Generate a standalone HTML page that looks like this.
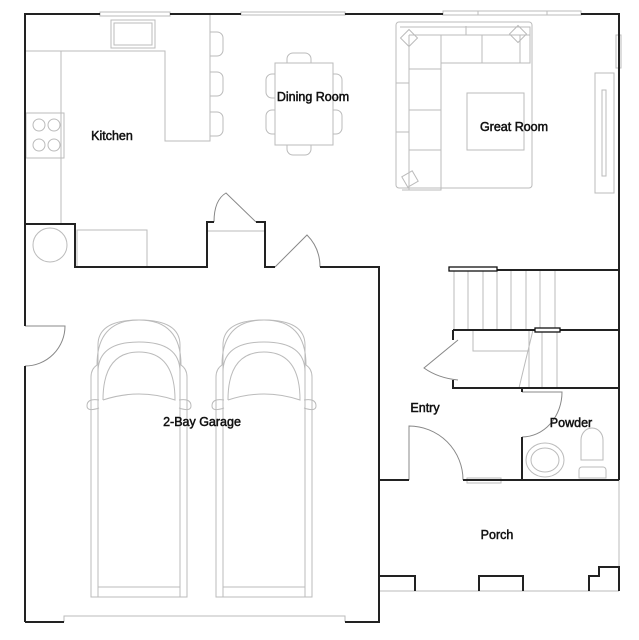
<!DOCTYPE html>
<html><head><style>
html,body{margin:0;padding:0;background:#fff;}
svg{display:block;}
text{font-family:"Liberation Sans",sans-serif;font-size:12.5px;fill:#111;text-anchor:middle;stroke:#111;stroke-width:0.5;}
</style></head><body>
<svg width="639" height="640" viewBox="0 0 639 640" xmlns="http://www.w3.org/2000/svg">
<g fill="none" stroke="#bbb" stroke-width="1">
 <rect x="100" y="12" width="70" height="4" fill="#fff"/>
 <rect x="111" y="20" width="44" height="28"/><rect x="114" y="23" width="38" height="22"/>
 <path d="M25 224 V51 H61 M61 224 V51 H165 V141 H210 V14"/>
 <rect x="26" y="113" width="38" height="45"/>
 <circle cx="39" cy="125" r="6"/><circle cx="54" cy="125" r="6"/><circle cx="39" cy="145" r="6"/><circle cx="54" cy="145" r="6"/>
 <path d="M210 32 h7 a6 6 0 0 1 6 6 v12 a6 6 0 0 1 -6 6 h-7"/>
 <path d="M210 72 h7 a6 6 0 0 1 6 6 v12 a6 6 0 0 1 -6 6 h-7"/>
 <path d="M210 112 h7 a6 6 0 0 1 6 6 v12 a6 6 0 0 1 -6 6 h-7"/>
 <circle cx="50" cy="245" r="17"/>
 <rect x="77" y="230" width="70" height="37"/>
 <line x1="207" y1="231" x2="265" y2="231"/>
 <rect x="275" y="63" width="58" height="82"/>
 <path d="M287 63 v-4 a6 6 0 0 1 6 -6 h12 a6 6 0 0 1 6 6 v4"/>
 <path d="M287 145 v4 a6 6 0 0 0 6 6 h12 a6 6 0 0 0 6 -6 v-4"/>
 <path d="M275 74 h-3 a6 6 0 0 0 -6 6 v12 a6 6 0 0 0 6 6 h3"/>
 <path d="M275 110 h-3 a6 6 0 0 0 -6 6 v12 a6 6 0 0 0 6 6 h3"/>
 <path d="M333 74 h3 a6 6 0 0 1 6 6 v12 a6 6 0 0 1 -6 6 h-3"/>
 <path d="M333 110 h3 a6 6 0 0 1 6 6 v12 a6 6 0 0 1 -6 6 h-3"/>
 <rect x="241" y="12" width="104" height="3"/>
 <rect x="396" y="22" width="136" height="166" rx="3"/>
 <path d="M400 27 H530 V63 H441 V190 H402"/>
 <path d="M409 35 H530 M441 63 V35 M466 26 V35 M482 35 V63 M520 35 V63 M409 35 V190 M409 69 H441 M409 110 H441 M409 150 H441 M396 83 H409 M396 132 H409"/>
 <rect x="403" y="32" width="12" height="12" transform="rotate(45 409 38)"/>
 <rect x="512" y="28" width="12" height="12" transform="rotate(45 518 34)"/>
 <rect x="404" y="173" width="12" height="12" transform="rotate(-30 410 179)"/>
 <rect x="467" y="93" width="57" height="57"/>
 <rect x="595" y="73" width="19" height="120"/><rect x="602" y="90" width="4" height="86"/>
 <rect x="443" y="11" width="138" height="4" fill="#fff"/><line x1="478" y1="11" x2="478" y2="15"/><line x1="547" y1="11" x2="547" y2="15"/>
 <rect x="616" y="35" width="5" height="33" fill="#fff"/>
 <path d="M454 270 V330 M468 270 V330 M483 270 V330 M497 270 V330 M511 270 V330 M526 270 V330 M540 270 V330 M555 270 V330"/>
 <path d="M473 330 V351 H529 M560 330 H619 M529 330 V388 M542 330 V388 M557 330 V388 M533 330 L519 388"/>
 <ellipse cx="545" cy="460" rx="19" ry="17"/><ellipse cx="545" cy="460" rx="14" ry="12"/>
 <path d="M581 460 V440 a11 12 0 0 1 22 0 V460 Z M579 478 v-8 a3 3 0 0 1 3 -3 h21 a3 3 0 0 1 3 3 v8 Z"/>
 <rect x="467" y="478" width="34" height="5" fill="#fff"/>
 <path d="M379 591 H619 M619 480 V567"/>
 <path d="M64 622 V616 H345 V622"/>
 <g id="car">
  <path d="M91 597 V377 q0 -8 6 -12 q0 -45 42 -45 q42 0 42 45 q6 4 6 12 V597 Z"/>
  <path d="M98 597 V345 q0 -25 41 -25 q41 0 41 25 V597"/>
  <path d="M98 587 V372 q0 -30 41 -30 q41 0 41 30 V587 Z"/>
  <path d="M103 400 q0 -48 36 -48 q36 0 36 48 q-36 -12 -72 0"/>
  <path d="M99 400 q-12 -2 -12 6 q0 6 12 2"/><path d="M179 400 q12 -2 12 6 q0 6 -12 2"/>
 </g>
 <use href="#car" x="125"/>
</g>
<g fill="none" stroke="#888" stroke-width="1">
 <path d="M214 222 Q214 200 226 193 L256 222"/>
 <path d="M275 267 L307 235 Q320 248 320 267"/>
 <path d="M25 326 H65 A40 40 0 0 1 25 366"/>
 <path d="M458 340 L424 368 Q438 378 458 380"/>
 <path d="M522 392 H562 A40 45 0 0 1 522 437"/>
 <path d="M409 480 V426 A54 54 0 0 1 463 480"/>
</g>
<g fill="none" stroke="#222" stroke-width="2">
 <path d="M25 622 V366 M25 326 V14 H100 M170 14 H241 M345 14 H443 M581 14 H619 V270"/>
 <path d="M25 224 H75 V267 H207 V222 H214 M256 222 H265 V267 H275"/>
 <path d="M320 267 H379 V622 H345 M64 622 H25"/>
 <path d="M619 270 V480 M449 270 H619 M453 330 H619 M453 330 V340 M453 380 V388 H619"/>
 <path d="M522 388 V392 M522 437 V480 H619 M379 480 H409 M463 480 H522"/>
 <path d="M379 576 H415 V591 M479 591 V576 H523 V591 M589 591 V576 H599 V567 H619 V591"/>
</g>
<g stroke="#111" stroke-width="1.3" fill="#fff">
 <rect x="449" y="267" width="48" height="4"/>
 <rect x="535" y="328" width="25" height="4"/>
</g>
<text x="112" y="140">Kitchen</text>
<text x="313" y="101">Dining Room</text>
<text x="514" y="131">Great Room</text>
<text x="202" y="426">2-Bay Garage</text>
<text x="425" y="412">Entry</text>
<text x="571" y="427">Powder</text>
<text x="497" y="539">Porch</text>
</svg>
</body></html>
